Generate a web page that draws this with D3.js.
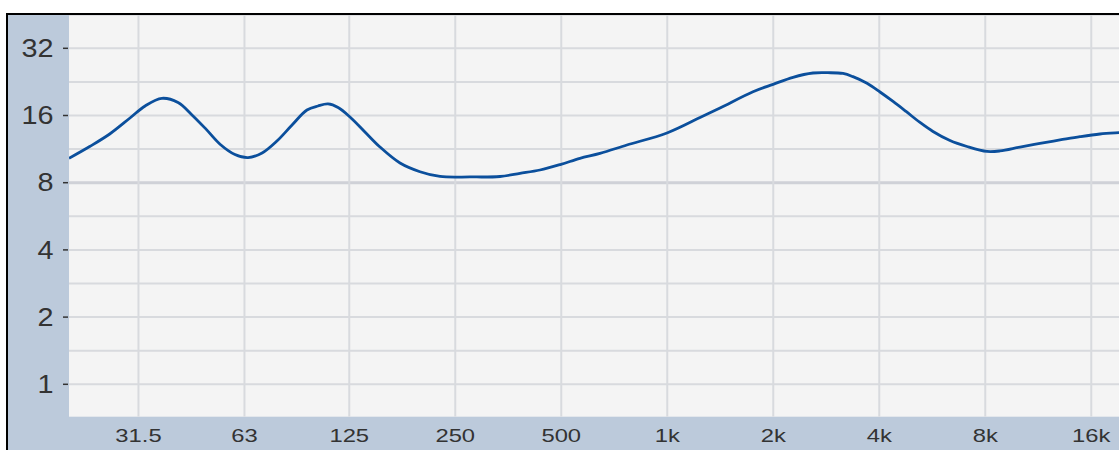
<!DOCTYPE html>
<html>
<head>
<meta charset="utf-8">
<script src="https://cdn.jsdelivr.net/npm/d3@7"></script>
<style>
  html, body { margin: 0; padding: 0; background: #ffffff; }
  svg { display: block; }
  text { font-family: "Liberation Sans", Arial, sans-serif; fill: #333333; }
</style>
</head>
<body>
<svg id="chart" width="1119" height="450"></svg>
<script>
// ---- data ----
const freqs = [20, 22.9, 26.1, 29.8, 32.9, 36.7, 40.8, 44.7, 49.0, 53.7, 59.2, 64.5, 70.7, 77.9, 86.0, 94.8,
  101.9, 108.8, 116.2, 125.6, 138.5, 152.8, 174.2, 198.5, 226.3, 275.3, 335, 381.8, 435, 499, 565, 644,
  768, 998, 1239, 1412, 1752, 1998, 2276, 2594, 2860, 3156, 3368, 3692, 4020, 4378, 4766, 5222, 5684, 6352,
  7100, 8090, 8808, 10042, 11442, 13042, 14866, 16938, 19190, 20000];
const values = [10.29, 11.62, 13.22, 15.59, 17.65, 19.1, 18.29, 16.1, 13.9, 11.9, 10.7, 10.37, 10.87, 12.30, 14.51, 16.93,
  17.65, 18.02, 17.38, 15.76, 13.50, 11.56, 9.80, 8.96, 8.53, 8.49, 8.53, 8.81, 9.12, 9.67, 10.29, 10.83,
  11.80, 13.36, 15.67, 17.29, 20.45, 22.07, 23.73, 24.8, 24.88, 24.68, 23.88, 22.30, 20.39, 18.49, 16.68, 14.89, 13.57, 12.36,
  11.62, 11.04, 11.10, 11.56, 12.01, 12.43, 12.86, 13.22, 13.40, 13.45];
const xTickValues = [31.5, 63, 125, 250, 500, 1000, 2000, 4000, 8000, 16000];
const xTickLabels = ["31.5", "63", "125", "250", "500", "1k", "2k", "4k", "8k", "16k"];
const yTickValues = [1, 2, 4, 8, 16, 32];
const yTickLabels = ["1", "2", "4", "8", "16", "32"];
const yGridValues = [0.7071, 1, 1.4142, 2, 2.8284, 4, 5.6569, 8, 11.3137, 16, 22.6274, 32, 45.2548];

// ---- layout ----
const W = 1119, H = 450;
const plot = { left: 69, top: 15, right: 1119, bottom: 416.7 };

const svg = d3.select("#chart");

const x = d3.scaleLog().domain([20, 20000]).range([69, 69 + 106 * Math.log2(1000)]);
const y = d3.scaleLog().base(2).domain([1, 32]).range([384.3, 48.3]);

svg.append("rect").attr("x", 0).attr("y", 0).attr("width", W).attr("height", H).attr("fill", "#ffffff");

// blue frame panels
svg.append("rect").attr("x", 8).attr("y", 15).attr("width", W - 8).attr("height", H - 15).attr("fill", "#bccadb");

// plot background
svg.append("rect")
  .attr("x", plot.left).attr("y", plot.top)
  .attr("width", plot.right - plot.left).attr("height", plot.bottom - plot.top)
  .attr("fill", "#f4f4f4");

svg.append("clipPath").attr("id", "clip")
  .append("rect")
  .attr("x", plot.left).attr("y", plot.top)
  .attr("width", plot.right - plot.left).attr("height", plot.bottom - plot.top);

const grid = svg.append("g").attr("clip-path", "url(#clip)");

grid.selectAll("line.h").data(yGridValues).enter().append("line")
  .attr("class", "h")
  .attr("x1", plot.left).attr("x2", plot.right)
  .attr("y1", d => y(d)).attr("y2", d => y(d))
  .attr("stroke", d => d === 8 ? "#cfd1d7" : "#d8dade")
  .attr("stroke-width", d => d === 8 ? 3 : 2);

grid.selectAll("line.v").data(xTickValues).enter().append("line")
  .attr("class", "v")
  .attr("x1", d => x(d)).attr("x2", d => x(d))
  .attr("y1", plot.top).attr("y2", plot.bottom)
  .attr("stroke", "#d8dade")
  .attr("stroke-width", 2);

// curve
const pts = freqs.map((f, i) => [f, values[i]]);
const line = d3.line()
  .x(d => x(d[0]))
  .y(d => y(d[1]))
  .curve(d3.curveCatmullRom.alpha(0.5));

grid.append("path")
  .datum(pts)
  .attr("d", line)
  .attr("fill", "none")
  .attr("stroke", "#0b4f9c")
  .attr("stroke-width", 2.8)
  .attr("stroke-linejoin", "round");

// y ticks and labels
const yAxis = svg.append("g");
yAxis.selectAll("line").data(yTickValues).enter().append("line")
  .attr("x1", 63).attr("x2", 68)
  .attr("y1", d => y(d)).attr("y2", d => y(d))
  .attr("stroke", "#333333").attr("stroke-width", 1.5);
yAxis.selectAll("text").data(yTickValues).enter().append("text")
  .attr("transform", d => `translate(53.5, ${y(d) + 8.6}) scale(1.13,1)`)
  .attr("text-anchor", "end")
  .attr("font-size", 25.5)
  .text((d, i) => yTickLabels[i]);

// x labels
const xAxis = svg.append("g");
xAxis.selectAll("text").data(xTickValues).enter().append("text")
  .attr("transform", d => `translate(${x(d)}, 441.7) scale(1.28,1)`)
  .attr("text-anchor", "middle")
  .attr("font-size", 18.6)
  .text((d, i) => xTickLabels[i]);

// black border (top and left)
svg.append("rect").attr("x", 6).attr("y", 13).attr("width", W - 6).attr("height", 2).attr("fill", "#000000");
svg.append("rect").attr("x", 6).attr("y", 13).attr("width", 2).attr("height", H - 13).attr("fill", "#000000");
</script>
</body>
</html>
